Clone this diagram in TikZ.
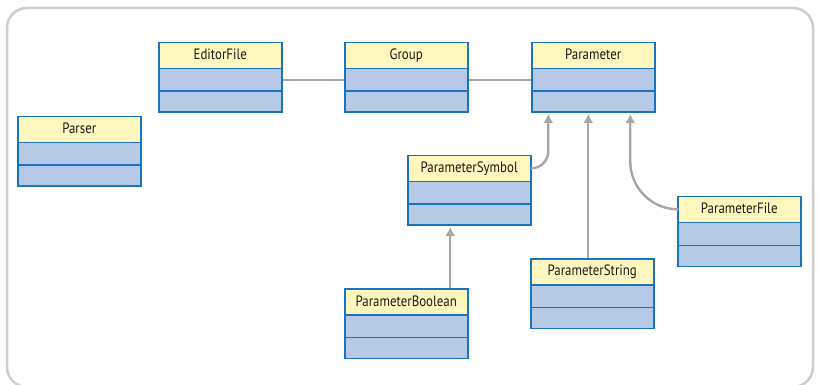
\documentclass[tikz,border=0pt]{standalone}
\usepackage{fontspec}
\setmainfont{PT Sans}[FakeStretch=0.86]
\usetikzlibrary{shapes.multipart,arrows.meta,calc}

\definecolor{hdryellow}{RGB}{255,247,190}
\definecolor{bodyblue}{RGB}{182,202,232}
\definecolor{edgeblue}{RGB}{25,115,190}
\definecolor{linkgray}{RGB}{165,165,170}
\definecolor{framegray}{RGB}{205,205,205}

% one class box: name, then two empty compartments
\newcommand{\umlparts}[1]{\rule[-8pt]{0pt}{24.5pt}#1\nodepart{two}\rule{0pt}{21pt}\nodepart{three}\rule{0pt}{19.5pt}}

\begin{document}
\begin{tikzpicture}[x=1pt,y=1pt,
  umlclass/.style={rectangle split, rectangle split parts=3, draw=edgeblue, line width=1.5pt,
    rectangle split part fill={hdryellow,bodyblue,bodyblue}, minimum width=123pt,
    inner xsep=2pt, inner ysep=0pt, anchor=north west,
    font=\fontsize{15}{16}\selectfont, text=black!90},
  assoc/.style={draw=linkgray, line width=2.2pt},
  inherit/.style={draw=linkgray, line width=2.4pt, -{Latex[length=9pt,width=10pt]}, shorten >=1pt}]

\useasboundingbox (0,0) rectangle (820,-385);
\draw[framegray, line width=2.5pt, rounded corners=20pt] (7,-8) rectangle (813,-387);

\node[umlclass] (parser) at (17,-116) {\umlparts{Parser}};
\node[umlclass] (editorfile) at (158,-42) {\umlparts{EditorFile}};
\node[umlclass] (group) at (344,-42) {\umlparts{Group}};
\node[umlclass] (param) at (531,-42) {\umlparts{Parameter}};
\node[umlclass] (symbol) at (407,-155) {\umlparts{ParameterSymbol}};
\node[umlclass] (pfile) at (677,-196) {\umlparts{ParameterFile}};
\node[umlclass] (pstring) at (530,-258) {\umlparts{ParameterString}};
\node[umlclass] (pbool) at (344,-288) {\umlparts{ParameterBoolean}};

% compartment lines drawn again on top of the fills
\foreach \c in {parser,editorfile,group,param,symbol,pfile,pstring,pbool}{
  \draw[edgeblue, line width=1.5pt] (\c.text split west) -- (\c.text split east);
  \draw[edgeblue, line width=1.5pt] (\c.two split west) -- (\c.two split east);
}

% associations
\draw[assoc] ($(editorfile.text split east)!0.5!(editorfile.two split east)$)
  -- ($(group.text split west)!0.5!(group.two split west)$);
\draw[assoc] ($(group.text split east)!0.5!(group.two split east)$)
  -- ($(param.text split west)!0.5!(param.two split west)$);

% inheritance
\coordinate (p1) at ([xshift=-45pt]param.south);
\coordinate (p2) at ([xshift=-5pt]param.south);
\coordinate (p3) at ([xshift=37pt]param.south);
\coordinate (s1) at ($(symbol.north east)!0.5!(symbol.text split east)$);
\coordinate (s3) at ($(pfile.north west)!0.5!(pfile.text split west)$);
\coordinate (b1) at ([xshift=44pt]pbool.north);

\draw[inherit, rounded corners=17pt] (s1) -| (p1);
\draw[inherit] (pstring.north -| p2) -- (p2);
\draw[inherit, rounded corners=48pt] (s3) -| (p3);
\draw[inherit] (b1) -- (b1 |- symbol.south);
\end{tikzpicture}
\end{document}
